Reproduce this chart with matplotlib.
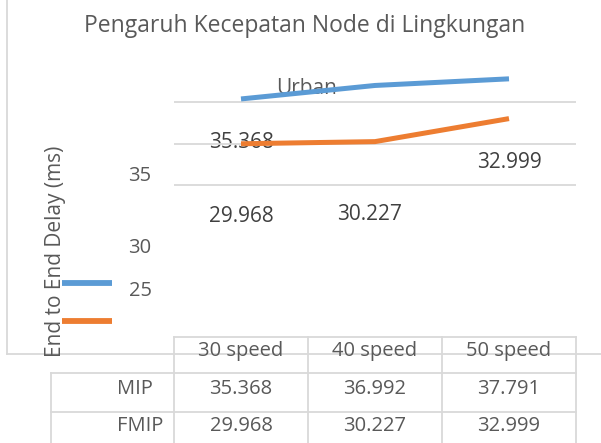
import numpy as np
import matplotlib
matplotlib.use('Agg')
import matplotlib.pyplot as plt

plt.rcParams['font.family'] = ['Open Sans', 'DejaVu Sans']

# --- Data ---
categories = ['30 speed', '40 speed', '50 speed']
series_names = ['MIP', 'FMIP']
mip = [35.368, 36.992, 37.791]
fmip = [29.968, 30.227, 32.999]
y_ticks = [25, 30, 35]
title = 'Pengaruh Kecepatan Node di Lingkungan'
subtitle = 'Urban'
y_label = 'End to End Delay (ms)'

BLUE = '#5B9BD5'
ORANGE = '#ED7D31'
GRID = '#D9D9D9'
TXT = '#595959'
DARK = '#404040'

W, H = 601, 443
fig = plt.figure(figsize=(W / 100, H / 100), dpi=100)

# overlay in pixel coords (for the broken Excel layout: borders, table, labels)
ov = fig.add_axes([0, 0, 1, 1])
ov.set_xlim(0, W)
ov.set_ylim(H, 0)
ov.axis('off')

# plot area
ax = fig.add_axes([174 / W, (H - 193.3) / H, 402 / W, 132.8 / H])
ax.set_facecolor('none')
x = np.arange(len(categories))
ax.plot(x, mip, color=BLUE, lw=3.6, solid_capstyle='butt', zorder=3)
ax.plot(x, fmip, color=ORANGE, lw=3.6, solid_capstyle='butt', zorder=3)
ax.set_xlim(-0.5, 2.5)
ax.set_ylim(24, 40)
ax.set_yticks(y_ticks)
ax.yaxis.grid(True, color=GRID, lw=1.3)
ax.tick_params(left=False, bottom=False, labelleft=False, labelbottom=False)
for s in ax.spines.values():
    s.set_visible(False)

# chart border (left + bottom)
ov.plot([7, 7], [0, 354], color=GRID, lw=1.3)
ov.plot([7, W], [354, 354], color=GRID, lw=1.3)

# title
ov.text(305, 26, title, fontsize=16.5, color=TXT, ha='center', va='center')
ov.text(307, 88, subtitle, fontsize=15, color=TXT, ha='center', va='center')

# y label
ov.text(56, 251, y_label, fontsize=15, color=TXT, rotation=90, ha='center', va='center')

# displaced tick labels
for t, yy in zip(sorted(y_ticks, reverse=True), [176, 248, 291]):
    ov.text(140, yy, str(t), fontsize=14.5, color=TXT, ha='center', va='center')

# legend keys
ov.plot([62, 112], [283, 283], color=BLUE, lw=4.2, solid_capstyle='butt')
ov.plot([62, 112], [321, 321], color=ORANGE, lw=4.2, solid_capstyle='butt')

# displaced data labels
ov.text(242, 142, f'{mip[0]:.3f}', fontsize=15, color=DARK, ha='center', va='center', zorder=4)
ov.text(509, 162, f'{fmip[2]:.3f}', fontsize=15, color=DARK, ha='center', va='center')
ov.text(241, 216, f'{fmip[0]:.3f}', fontsize=15, color=DARK, ha='center', va='center')
ov.text(370, 214, f'{fmip[1]:.3f}', fontsize=15, color=DARK, ha='center', va='center')

# data table
col_x = [174, 308, 442, 576]
col_c = [(col_x[i] + col_x[i + 1]) / 2 for i in range(3)]
for cx in col_x:
    ov.plot([cx, cx], [337, H], color=GRID, lw=1.3)
ov.plot([174, 576], [337, 337], color=GRID, lw=1.3)
ov.plot([51, 576], [373, 373], color=GRID, lw=1.3)
ov.plot([51, 576], [412, 412], color=GRID, lw=1.3)
ov.plot([51, 51], [373, H], color=GRID, lw=1.3)

for c, name in zip(col_c, categories):
    ov.text(c, 351, name, fontsize=14.5, color=TXT, ha='center', va='center')
for row_y, name, vals in zip([389, 426], series_names, [mip, fmip]):
    ov.text(117, row_y, name, fontsize=14.5, color=TXT, ha='left', va='center')
    for c, v in zip(col_c, vals):
        ov.text(c, row_y, f'{v:.3f}', fontsize=14.5, color=TXT, ha='center', va='center')

fig.savefig('out.png', dpi=100)
